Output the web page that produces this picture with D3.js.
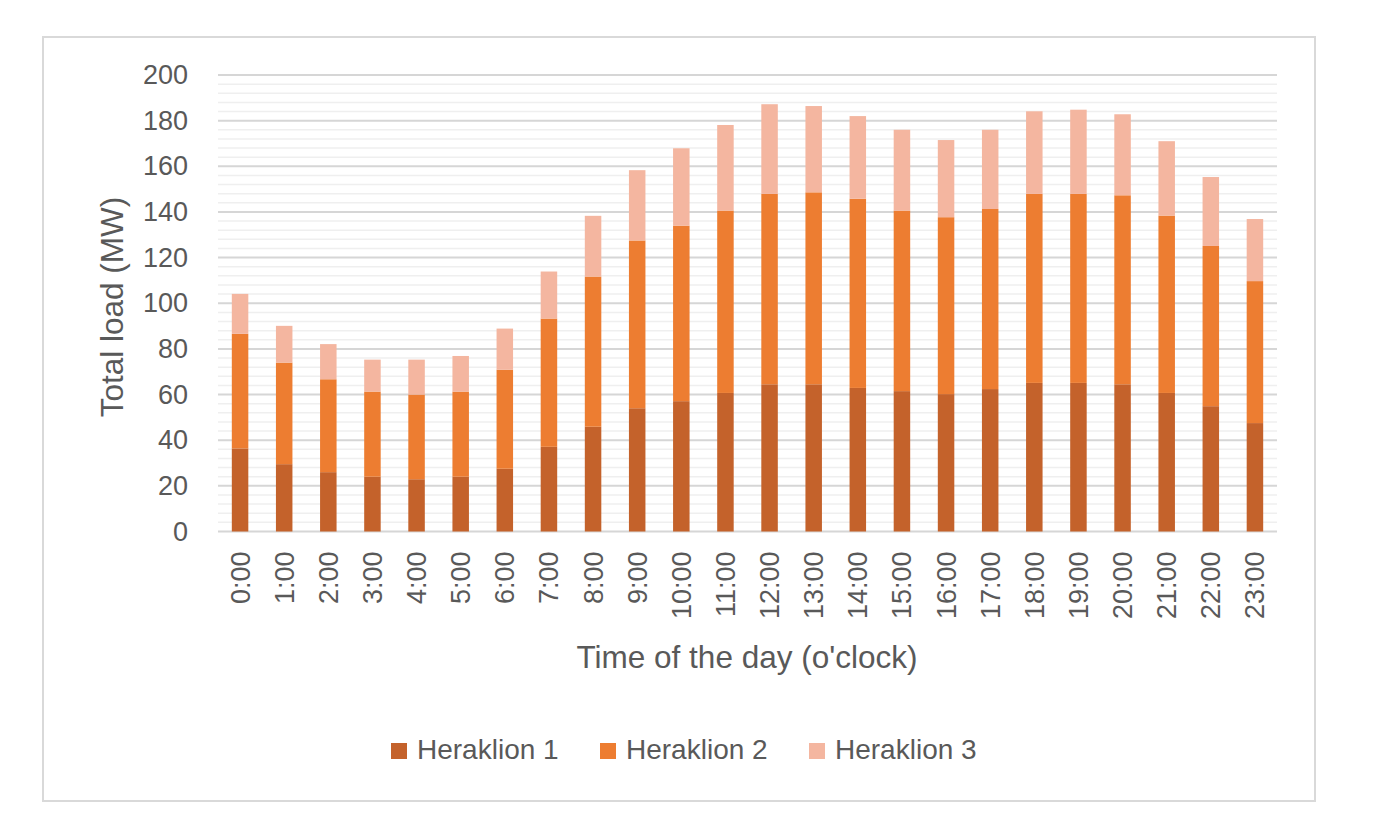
<!DOCTYPE html>
<html>
<head>
<meta charset="utf-8">
<script src="https://cdn.jsdelivr.net/npm/d3@7"></script>
<style>
  html, body { margin: 0; padding: 0; background: #fff; }
  svg { display: block; }
  text { font-family: "Liberation Sans", Arial, sans-serif; fill: #595959; }
</style>
</head>
<body>
<svg id="chart" width="1379" height="826"></svg>
<script>
const hours = ["0:00","1:00","2:00","3:00","4:00","5:00","6:00","7:00","8:00","9:00","10:00","11:00",
               "12:00","13:00","14:00","15:00","16:00","17:00","18:00","19:00","20:00","21:00","22:00","23:00"];
const seriesNames = ["Heraklion 1", "Heraklion 2", "Heraklion 3"];
const heraklion1 = [36.4, 29.5, 26.0, 24.0, 22.9, 24.0, 27.5, 37.1, 45.9, 54.0, 57.1, 60.7, 64.5, 64.5, 62.9, 61.5, 60.2, 62.4, 65.1, 65.1, 64.5, 60.7, 54.9, 47.5];
const heraklion2 = [50.2, 44.5, 40.7, 37.3, 37.1, 37.3, 43.4, 56.2, 65.8, 73.5, 76.9, 79.9, 83.4, 84.1, 82.9, 79.1, 77.5, 78.9, 82.8, 82.8, 82.8, 77.7, 70.2, 62.2];
const heraklion3 = [17.5, 16.1, 15.4, 14.0, 15.3, 15.6, 18.0, 20.6, 26.6, 30.8, 33.9, 37.5, 39.3, 37.8, 36.2, 35.4, 33.8, 34.7, 36.2, 36.9, 35.5, 32.6, 30.2, 27.2];
const yTicks = [0, 20, 40, 60, 80, 100, 120, 140, 160, 180, 200];
const colors = ["#C4622B", "#ED7D31", "#F4B6A0"];

(function () {
const svg = d3.select("#chart");

// outer frame
svg.append("rect").attr("x", 43).attr("y", 37).attr("width", 1272).attr("height", 764)
  .attr("fill", "#fff").attr("stroke", "#d9d9d9").attr("stroke-width", 2);

const plotL = 218, plotR = 1277, plotT = 75, plotB = 531.5;

const x = d3.scaleBand().domain(hours).range([plotL, plotR])
  .paddingInner(0.626).paddingOuter(0.313).align(0.5);
const y = d3.scaleLinear().domain([0, 200]).range([plotB, plotT]);

// minor gridlines
const minor = d3.range(4, 200, 4).filter(v => v % 20 !== 0);
svg.append("g").selectAll("line").data(minor).join("line")
  .attr("x1", plotL).attr("x2", plotR)
  .attr("y1", d => y(d)).attr("y2", d => y(d))
  .attr("stroke", "#efefef").attr("stroke-width", 1.5);

// major gridlines
svg.append("g").selectAll("line").data(yTicks).join("line")
  .attr("x1", plotL).attr("x2", plotR)
  .attr("y1", d => y(d)).attr("y2", d => y(d))
  .attr("stroke", "#d6d6d6").attr("stroke-width", 2);

// y axis labels
const yAxis = d3.axisLeft(y).tickValues(yTicks).tickSize(0).tickPadding(30);
const gy = svg.append("g").attr("transform", `translate(${plotL},0)`).call(yAxis);
gy.select(".domain").remove();
gy.selectAll("text").style("font-size", "27px").attr("fill", "#595959")
  .style("font-family", '"Liberation Sans", Arial, sans-serif');

// stacked bars
const table = hours.map((h, i) => ({ hour: h, s0: heraklion1[i], s1: heraklion2[i], s2: heraklion3[i] }));
const stack = d3.stack().keys(["s0", "s1", "s2"]);
const layers = stack(table);

svg.append("g").selectAll("g").data(layers).join("g")
  .attr("fill", (d, i) => colors[i])
  .selectAll("rect").data(d => d).join("rect")
  .attr("x", d => x(d.data.hour))
  .attr("width", x.bandwidth())
  .attr("y", d => y(d[1]))
  .attr("height", d => y(d[0]) - y(d[1]));

// x axis labels
const xAxis = d3.axisBottom(x).tickSize(0).tickPadding(0);
const gx = svg.append("g").attr("transform", `translate(0,${plotB})`).call(xAxis);
gx.select(".domain").remove();
gx.selectAll("text")
  .style("font-size", "27px").attr("fill", "#595959")
  .style("font-family", '"Liberation Sans", Arial, sans-serif')
  .attr("text-anchor", "end")
  .attr("transform", "translate(0,20) rotate(-90)")
  .attr("x", 0).attr("y", 0).attr("dy", "0.35em");

// axis titles
svg.append("text").attr("x", 747).attr("y", 668).attr("text-anchor", "middle")
  .style("font-size", "31.5px").text("Time of the day (o'clock)");
svg.append("text").attr("transform", "translate(123,307) rotate(-90)").attr("text-anchor", "middle")
  .style("font-size", "31.5px").text("Total load (MW)");

// legend
const legendX = [391, 600, 809];
const lg = svg.append("g").selectAll("g").data(seriesNames).join("g")
  .attr("transform", (d, i) => `translate(${legendX[i]},0)`);
lg.append("rect").attr("x", 0).attr("y", 743).attr("width", 16).attr("height", 16)
  .attr("fill", (d, i) => colors[i]);
lg.append("text").attr("x", 26).attr("y", 759).style("font-size", "28px").text(d => d);
})();
</script>
</body>
</html>
